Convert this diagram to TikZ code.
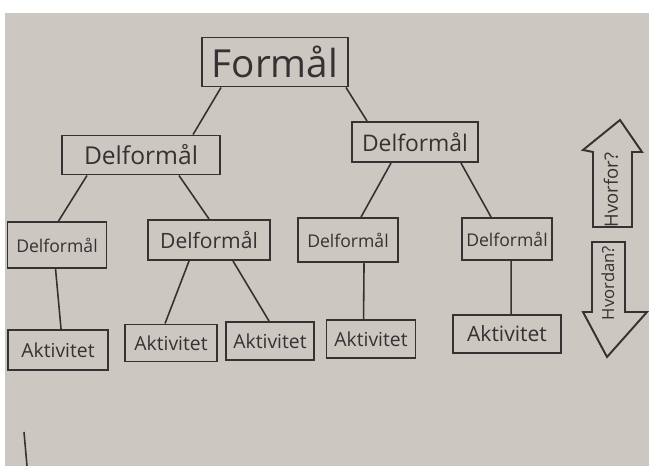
\documentclass[tikz,border=0pt]{standalone}
\usepackage{fontspec}
\setsansfont{Open Sans}
\usetikzlibrary{positioning, calc}
\definecolor{paper}{RGB}{204,199,193}
\definecolor{ink}{RGB}{52,50,50}
\tikzset{
    box/.style={ % Every box on the sheet
        draw=ink,
        line width=1.1pt,
        text=ink,
        font=\sffamily,
        inner sep=0pt
    },
    every edge/.style={ % Lines between boxes
        draw=ink,
        line width=0.9pt
    },
}

\begin{document}
\begin{tikzpicture}[x=0.02cm, y=-0.02cm]
    \fill[white] (0,0) rectangle (649,466);
    \fill[paper] (5,13) rectangle (649,466);
    \useasboundingbox (0,0) rectangle (649,466);

    % top
    \node[box, minimum width=2.92cm, minimum height=0.98cm, font=\sffamily\fontsize{22}{22}\selectfont]   (F)     at (275,62)  {Formål};
    % second row
    \node[box, minimum width=3.16cm, minimum height=0.78cm, font=\sffamily\fontsize{14}{14}\selectfont]   (D1)    at (141,155) {Delformål};
    \node[box, minimum width=2.52cm, minimum height=0.80cm, font=\sffamily\fontsize{13}{13}\selectfont]   (D2)    at (415,142) {Delformål};
    % third row
    \node[box, minimum width=1.98cm, minimum height=0.92cm, font=\sffamily\fontsize{10}{10}\selectfont]   (L1)    at (57,245)  {Delformål};
    \node[box, minimum width=2.44cm, minimum height=0.80cm, font=\sffamily\fontsize{12}{12}\selectfont]   (L2)    at (209,240) {Delformål};
    \node[box, minimum width=2.00cm, minimum height=0.88cm, font=\sffamily\fontsize{10}{10}\selectfont]   (L3)    at (348,240) {Delformål};
    \node[box, minimum width=1.80cm, minimum height=0.84cm, font=\sffamily\fontsize{10}{10}\selectfont]   (L4)    at (507,239) {Delformål};
    % activities
    \node[box, minimum width=2.00cm, minimum height=0.80cm, font=\sffamily\fontsize{11}{11}\selectfont]   (A1)    at (58,350)  {Aktivitet};
    \node[box, minimum width=1.84cm, minimum height=0.74cm, font=\sffamily\fontsize{11}{11}\selectfont]   (A2)    at (171,343) {Aktivitet};
    \node[box, minimum width=1.76cm, minimum height=0.76cm, font=\sffamily\fontsize{11}{11}\selectfont]   (A3)    at (270,341) {Aktivitet};
    \node[box, minimum width=1.78cm, minimum height=0.76cm, font=\sffamily\fontsize{11}{11}\selectfont]   (A4)    at (371,339) {Aktivitet};
    \node[box, minimum width=2.16cm, minimum height=0.76cm, font=\sffamily\fontsize{12}{12}\selectfont]   (A5)    at (507,334) {Aktivitet};

    \draw   ($(F.south west)+(20,0)$)   edge    ($(D1.north west)+(132,0)$)
            ($(F.south east)+(-3,0)$)   edge    ($(D2.north west)+(16,0)$)
            ($(D1.south west)+(26,0)$)  edge    ($(L1.north west)+(52,0)$)
            ($(D1.south east)+(-42,0)$) edge    ($(L2.north west)+(62,0)$)
            ($(D2.south west)+(40,0)$)  edge    ($(L3.north west)+(64,0)$)
            ($(D2.south east)+(-18,0)$) edge    ($(L4.north west)+(30,0)$)
            ($(L1.south west)+(49,0)$)  edge    ($(A1.north west)+(54,0)$)
            ($(L2.south west)+(42,0)$)  edge    ($(A2.north west)+(41,0)$)
            ($(L2.south east)+(-38,0)$) edge    ($(A3.north west)+(44,0)$)
            ($(L3.south west)+(67,0)$)  edge    ($(A4.north west)+(38,0)$)
            ($(L4.south west)+(50,0)$)  edge    ($(A5.north west)+(59,0)$)
    ;

    % why / how arrows
    \draw[ink, line width=1.1pt] (593,227) -- (593,152) -- (583,150) -- (620,120) -- (642,152) -- (632,152) -- (632,227) -- cycle;
    \draw[ink, line width=1.1pt] (592,242) -- (625,242) -- (625,312) -- (647,312) -- (607,357) -- (583,312) -- (592,312) -- cycle;
    \node[rotate=90, text=ink, font=\sffamily\fontsize{10.5}{11}\selectfont] (why) at (611,190) {Hvorfor?};
    \node[rotate=90, text=ink, font=\sffamily\fontsize{9.5}{11}\selectfont] (how) at (608,283) {Hvordan?};

    % stray pen mark
    \draw[ink, line width=0.9pt] (24,432) -- (27,466);
\end{tikzpicture}
\end{document}
